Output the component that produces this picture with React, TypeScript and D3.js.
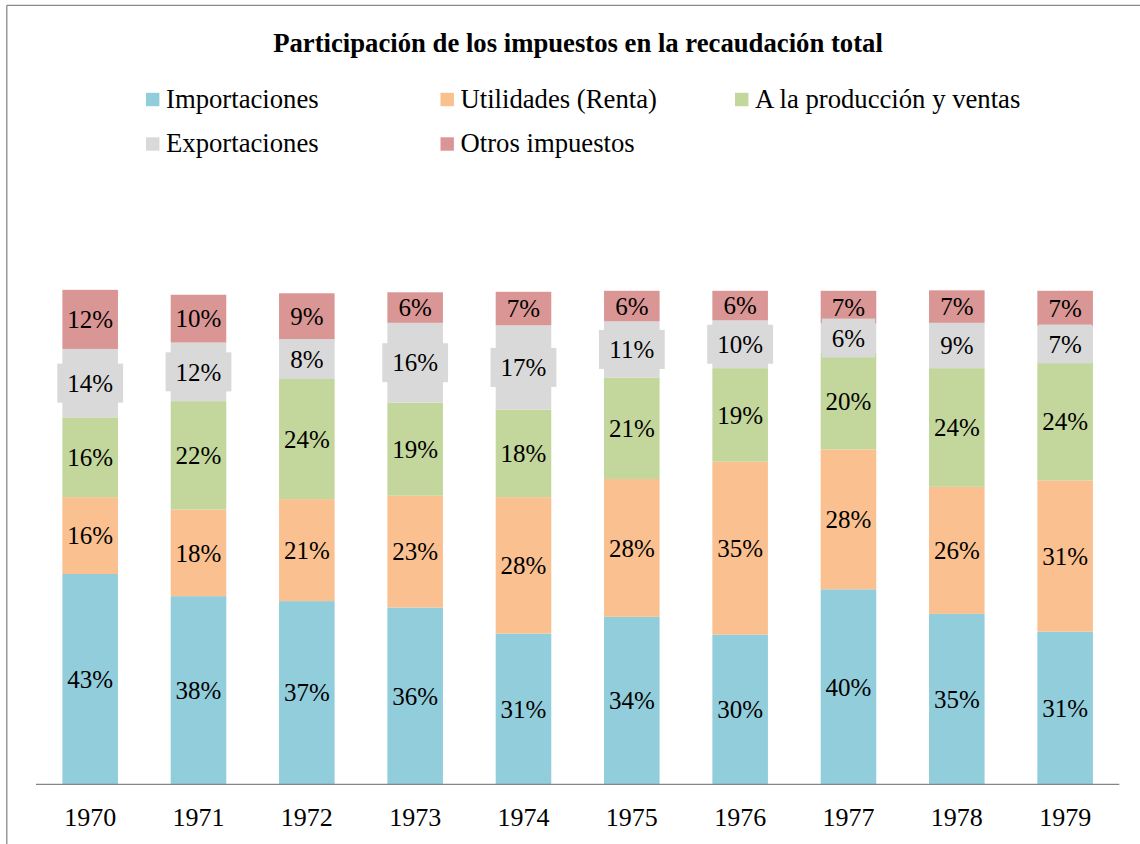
import React from 'react';
import * as d3 from 'd3';

const years = ['1970', '1971', '1972', '1973', '1974', '1975', '1976', '1977', '1978', '1979'];
const seriesNames = ['Importaciones', 'Utilidades (Renta)', 'A la producción y ventas', 'Exportaciones', 'Otros impuestos'];
const seriesColors = ['#92cddc', '#fac090', '#c3d69b', '#d9d9d9', '#d99694'];
const importaciones = [42.7, 38.2, 37.2, 35.9, 30.6, 34.0, 30.4, 39.6, 34.6, 31.0];
const utilidades = [15.6, 17.6, 20.7, 22.7, 27.7, 28.0, 35.1, 28.4, 25.8, 30.7];
const produccion = [16.2, 22.0, 24.4, 18.9, 17.8, 20.6, 19.0, 19.6, 24.1, 24.0];
const exportaciones = [13.9, 11.9, 8.1, 16.2, 17.1, 11.4, 9.7, 6.0, 9.2, 7.4];
const otros = [12.0, 9.7, 9.3, 6.2, 6.8, 6.2, 6.0, 6.6, 6.6, 7.1];
const title = 'Participación de los impuestos en la recaudación total';

const W = 1140;
const H = 844;
const FONT = '"Liberation Serif", "Times New Roman", serif';

export default function App() {
  const seriesValues = [importaciones, utilidades, produccion, exportaciones, otros];
  const keys = seriesNames;
  const table = years.map((y, i) => {
    const row: Record<string, any> = { year: y };
    keys.forEach((k, s) => (row[k] = seriesValues[s][i]));
    return row;
  });
  const stacked = d3.stack<any>().keys(keys)(table);

  const x = d3
    .scaleBand<string>()
    .domain(years)
    .range([36, 1119.3])
    .paddingInner(0.487)
    .paddingOuter(0.2435);
  const y = d3.scaleLinear().domain([0, 100]).range([784.3, 291.8]);

  const labelSize = 25;
  const measure = (t: string) => {
    let w = 0;
    for (const c of t) w += c === '%' ? 0.833 : 0.5;
    return w * labelSize;
  };

  const legendCols = [146, 440.5, 735];
  const legendRows = [99.5, 144];

  const greyIndex = 3;

  return (
    <svg
      width={W}
      height={H}
      style={{ position: 'absolute', left: 0, top: 0, background: '#fff' }}
      fontFamily={FONT}
    >
      <rect x={0} y={0} width={W} height={H} fill="#fff" />
      <line x1={6.8} y1={5.3} x2={W + 10} y2={5.3} stroke="#898989" strokeWidth={1.3} />
      <line x1={6.8} y1={5.3} x2={6.8} y2={H + 10} stroke="#898989" strokeWidth={1.3} />

      <text x={578} y={52} textAnchor="middle" fontWeight="bold" fontSize={26.7} fill="#000">
        {title}
      </text>

      {seriesNames.map((name, i) => {
        const col = i % 3;
        const row = Math.floor(i / 3);
        const mx = legendCols[col];
        const my = legendRows[row];
        return (
          <g key={name}>
            <rect x={mx} y={my - 6.7} width={13.4} height={13.4} fill={seriesColors[i]} />
            <text x={mx + 20} y={my + 8} fontSize={26.7} fill="#000">
              {name}
            </text>
          </g>
        );
      })}

      {stacked.map((s, si) => (
        <g key={s.key}>
          {s.map((d, i) => (
            <rect
              key={i}
              x={x(years[i])}
              y={y(d[1])}
              width={x.bandwidth()}
              height={y(d[0]) - y(d[1])}
              fill={seriesColors[si]}
            />
          ))}
        </g>
      ))}

      <line x1={36} x2={1119.3} y1={784.3} y2={784.3} stroke="#868686" strokeWidth={1.2} />

      {years.map((yr) => (
        <text
          key={yr}
          x={(x(yr) as number) + x.bandwidth() / 2}
          y={825.5}
          textAnchor="middle"
          fontSize={26}
          fill="#000"
        >
          {yr}
        </text>
      ))}

      {stacked.map((s, si) =>
        si === greyIndex ? null : (
          <g key={'l' + s.key}>
            {s.map((d, i) => {
              const cx = (x(years[i]) as number) + x.bandwidth() / 2;
              const cy = (y(d[0]) + y(d[1])) / 2;
              const t = Math.round(seriesValues[si][i]) + '%';
              return (
                <text key={i} x={cx} y={cy} dy="0.35em" textAnchor="middle" fontSize={labelSize} fill="#000">
                  {t}
                </text>
              );
            })}
          </g>
        )
      )}

      <g>
        {stacked[greyIndex].map((d, i) => {
          const cx = (x(years[i]) as number) + x.bandwidth() / 2;
          const cy = (y(d[0]) + y(d[1])) / 2;
          const t = Math.round(seriesValues[greyIndex][i]) + '%';
          const bw = measure(t) + 20;
          return (
            <g key={i}>
              <rect x={cx - bw / 2} y={cy - 19.5} width={bw} height={39} fill={seriesColors[greyIndex]} />
              <text x={cx} y={cy} dy="0.35em" textAnchor="middle" fontSize={labelSize} fill="#000">
                {t}
              </text>
            </g>
          );
        })}
      </g>
    </svg>
  );
}
